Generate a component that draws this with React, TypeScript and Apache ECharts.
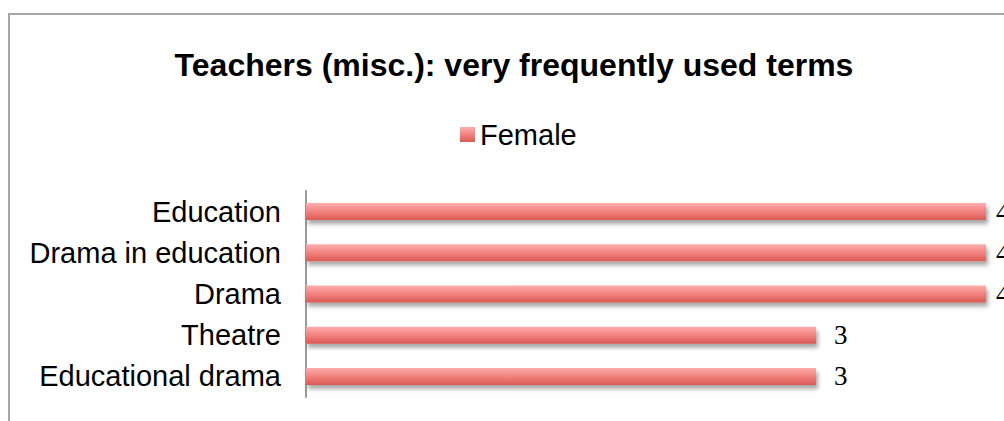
import React, { useEffect, useRef } from "react";
import * as echarts from "echarts";

const categories = ["Education", "Drama in education", "Drama", "Theatre", "Educational drama"];
const femaleValues = [4, 4, 4, 3, 3];
const labelDistances = [10, 10, 10, 18, 18];
const titleText = "Teachers (misc.): very frequently used terms";
const seriesName = "Female";

export default function App() {
  const ref = useRef<HTMLDivElement>(null);
  useEffect(() => {
    if (!ref.current) return;
    const chart = echarts.init(ref.current, undefined, { renderer: "svg" });
    const barColor = new echarts.graphic.LinearGradient(0, 0, 0, 1, [
      { offset: 0, color: "#fcaeac" },
      { offset: 0.5, color: "#f2827f" },
      { offset: 1, color: "#da5954" },
    ]);
    chart.setOption({
      animation: false,
      title: {
        text: titleText,
        left: "center",
        top: 27,
        textStyle: {
          fontFamily: "Liberation Sans, Arial, sans-serif",
          fontSize: 32,
          fontWeight: "bold",
          color: "#000",
          lineHeight: 36,
        },
      },
      legend: {
        data: [seriesName],
        left: 445,
        top: 100,
        icon: "rect",
        itemWidth: 15,
        itemHeight: 15,
        itemGap: 10,
        textStyle: {
          fontFamily: "Liberation Sans, Arial, sans-serif",
          fontSize: 29,
          color: "#000",
          lineHeight: 28,
        },
      },
      grid: { left: 296, right: 32, top: 176, height: 206, containLabel: false },
      xAxis: {
        type: "value",
        min: 0,
        max: 4,
        show: false,
      },
      yAxis: {
        type: "category",
        data: categories,
        inverse: true,
        axisTick: { show: false },
        axisLine: { show: true, lineStyle: { color: "#9a9a9a", width: 2 } },
        axisLabel: {
          margin: 25,
          fontFamily: "Liberation Sans, Arial, sans-serif",
          fontSize: 29,
          color: "#000",
        },
      },
      series: [
        {
          name: seriesName,
          type: "bar",
          barWidth: 17,
          data: femaleValues.map((v, i) => ({
            value: v,
            label: { distance: labelDistances[i] },
          })),
          itemStyle: {
            color: barColor,
            shadowColor: "rgba(0,0,0,0.35)",
            shadowBlur: 4,
            shadowOffsetX: 2,
            shadowOffsetY: 4,
          },
          label: {
            show: true,
            position: "right",
            fontFamily: "Liberation Serif, Times New Roman, serif",
            fontSize: 27,
            color: "#000",
          },
        },
      ],
    });
    return () => chart.dispose();
  }, []);

  return (
    <div style={{ position: "fixed", left: 0, top: 0, width: 1004, height: 421, overflow: "hidden", background: "#fff" }}>
      <div
        style={{
          position: "absolute",
          left: 8,
          top: 13,
          width: 1012,
          height: 430,
          border: "2px solid #a6a6a6",
          boxSizing: "border-box",
        }}
      />
      <div ref={ref} style={{ position: "absolute", left: 10, top: 15, width: 1008, height: 406 }} />
    </div>
  );
}
